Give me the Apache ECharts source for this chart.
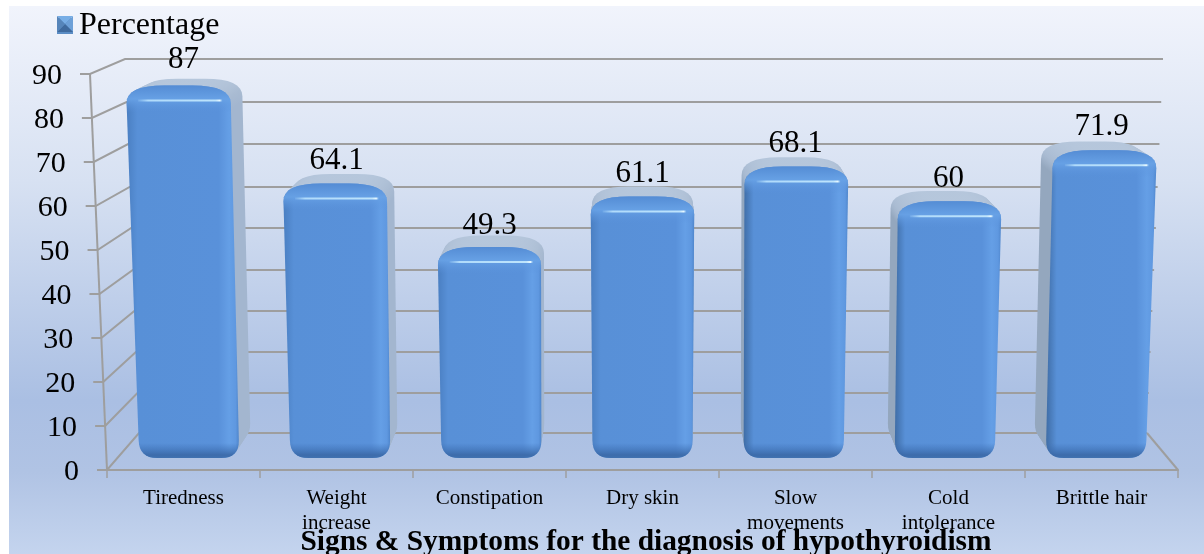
<!DOCTYPE html>
<html>
<head>
<meta charset="utf-8">
<style>
  html, body { margin: 0; background: #fff; }
  #chart { width: 1204px; height: 554px; }
</style>
<script src="https://cdn.jsdelivr.net/npm/echarts@6/dist/echarts.min.js"></script>
</head>
<body>
<div id="chart"></div>
<script>
const categories = ["Tiredness", "Weight\nincrease", "Constipation", "Dry skin", "Slow\nmovements", "Cold\nintolerance", "Brittle hair"];
const percentages = [87, 64.1, 49.3, 61.1, 68.1, 60, 71.9];
const wallTicks = [0, 10, 20, 30, 40, 50, 60, 70, 80, 90];

const FONT = '"Liberation Serif", "Times New Roman", serif';
const LINE = "#9e9e9e";
const VP = [644, -160]; // 透视灭点

// 把前平面的点往灭点方向推 d
function project(p, d) {
  return [p[0] + d * (VP[0] - p[0]), p[1] + d * (VP[1] - p[1])];
}

// 圆角四边形，radii 的每项是 [到上一条边的距离, 到下一条边的距离]
function roundedOutline(corners, radii) {
  const pts = [];
  const n = corners.length;
  for (let i = 0; i < n; i++) {
    const p = corners[i];
    const prev = corners[(i + n - 1) % n];
    const next = corners[(i + 1) % n];
    const lenA = Math.hypot(prev[0] - p[0], prev[1] - p[1]);
    const lenB = Math.hypot(next[0] - p[0], next[1] - p[1]);
    const a = [p[0] + (prev[0] - p[0]) * radii[i][0] / lenA, p[1] + (prev[1] - p[1]) * radii[i][0] / lenA];
    const b = [p[0] + (next[0] - p[0]) * radii[i][1] / lenB, p[1] + (next[1] - p[1]) * radii[i][1] / lenB];
    for (let s = 0; s <= 8; s++) {
      const t = s / 8;
      pts.push([
        (1 - t) * (1 - t) * a[0] + 2 * t * (1 - t) * p[0] + t * t * b[0],
        (1 - t) * (1 - t) * a[1] + 2 * t * (1 - t) * p[1] + t * t * b[1],
      ]);
    }
  }
  return pts;
}

function vGrad(stops) {
  return { type: "linear", x: 0, y: 0, x2: 0, y2: 1, colorStops: stops.map((s) => ({ offset: s[0], color: s[1] })) };
}
function hGrad(stops) {
  return { type: "linear", x: 0, y: 0, x2: 1, y2: 0, colorStops: stops.map((s) => ({ offset: s[0], color: s[1] })) };
}

// 墙上的网格线
function renderWall(params, api) {
  const v = api.value(1);
  const y = api.coord([0, v])[1];
  const t = v / 90;
  const backY = Math.round(433 - (470 - y) * 374 / 396 + 3.3 * Math.sin(Math.PI * t));
  const frontX = 107 - 17 * t;
  const backL = 139 - 14 * t;
  const backR = 1147 + 16 * t;
  const style = { stroke: LINE, lineWidth: 2, fill: null };
  const children = [
    { type: "polyline", shape: { points: [[frontX - 10, y], [frontX, y], [backL, backY], [backR, backY]] }, style },
  ];
  if (v === 0) {
    children.push({ type: "line", shape: { x1: backR, y1: backY, x2: 1178, y2: 470 }, style });
    children.push({ type: "line", shape: { x1: 107, y1: 470, x2: 90, y2: api.coord([0, 90])[1] }, style });
  }
  return { type: "group", children };
}

function renderBar(params, api) {
  const i = api.value(0);
  const v = api.value(1);
  const p = api.coord([i, v]);
  const zero = api.coord([i, 0]);
  const baseX = p[0] + (644 - p[0]) * 0.0125;
  const baseY = 458;
  const topY = baseY - (zero[1] - p[1]) * 0.973;
  const k = 1 + 0.00028 * v;
  const topX = 644 + (baseX - 644) * k;
  const halfB = 50;
  const halfT = 50 * k + 1;
  const corners = [[topX - halfT, topY], [topX + halfT, topY], [baseX + halfB, baseY], [baseX - halfB, baseY]];
  const radii = [[18, 38], [38, 18], [18, 18], [18, 18]];
  const front = roundedOutline(corners, radii);
  const h = baseY - topY;
  const w = 2 * halfT;
  const children = [];

  // 侧面和顶面：把轮廓往灭点方向挤出
  const rightOfCentre = baseX > 644;
  const sideColor = rightOfCentre ? "#94a7be" : "#a3b6cf";
  const sideFill = vGrad([[0, "#b6c7dc"], [Math.min(0.12, 12 / h), "#a9bbd2"], [Math.min(0.2, 24 / h), sideColor], [1, sideColor]]);
  for (let s = 10; s >= 1; s--) {
    const d = 0.028 * s / 10;
    children.push({ type: "polygon", shape: { points: front.map((q) => project(q, d)) }, style: { fill: sideFill } });
  }

  // 正面，左右边缘有暗边和亮边
  const leftDark = rightOfCentre ? "#3f6da6" : "#4a7fc2";
  children.push({
    type: "polygon",
    shape: { points: front },
    style: {
      fill: hGrad([
        [0, leftDark],
        [10 / w, "#5890d7"],
        [0.82, "#5991da"],
        [1 - 9 / w, "#659fe6"],
        [1 - 3 / w, "#5f98e0"],
        [1, "#4f86cc"],
      ]),
    },
  });
  // 顶部和底部的斜角
  const bevel = 15 / h;
  const foot = 15 / h;
  children.push({
    type: "polygon",
    shape: { points: front },
    style: {
      fill: vGrad([
        [0, "rgba(84,140,212,0.95)"],
        [bevel * 0.9, "rgba(104,162,230,0.9)"],
        [bevel * 1.8, "rgba(90,146,220,0)"],
        [1 - foot, "rgba(60,110,180,0)"],
        [1 - foot * 0.2, "rgba(58,104,166,0.9)"],
        [1, "rgba(62,110,172,0.9)"],
      ]),
    },
  });
  // 高光
  children.push({
    type: "rect",
    shape: { x: topX - halfT + 12, y: topY + 14, width: w - 20, height: 2 },
    style: { fill: hGrad([[0, "rgba(180,224,255,0.15)"], [0.12, "rgba(190,230,255,0.85)"], [0.92, "rgba(200,236,255,0.9)"], [0.97, "rgba(235,250,255,1)"], [1, "rgba(190,230,255,0.1)"]]) },
  });
  // 数据标签
  children.push({
    type: "text",
    style: {
      x: p[0],
      y: p[1] - 27,
      text: String(v),
      fill: "#000",
      font: "31px " + FONT,
      align: "center",
      verticalAlign: "middle",
    },
    z2: 20,
  });
  return { type: "group", children };
}

const chart = echarts.init(document.getElementById("chart"), null, { renderer: "canvas" });

const yRich = {};
wallTicks.forEach((v) => {
  yRich["t" + v] = { fontFamily: FONT, fontSize: 30, color: "#000", padding: [4, 17 * v / 90, 0, 0] };
});

// 图例标记的四个三角面
const legendFaces = [
  { points: [[57, 16], [73, 16], [65, 24]], fill: "#78aee6" },
  { points: [[73, 16], [73, 32], [65, 24]], fill: "#6da0d8" },
  { points: [[57, 32], [73, 32], [65, 24]], fill: "#3f6a9e" },
  { points: [[57, 16], [57, 32], [65, 24]], fill: "#5685ba" },
];

chart.setOption({
  animation: false,
  tooltip: { show: false },
  graphic: [
    {
      type: "rect",
      z: -10,
      silent: true,
      shape: { x: 9, y: 6, width: 1195, height: 548 },
      style: {
        fill: vGrad([[0, "#f1f4fc"], [0.32, "#d7e1f2"], [0.72, "#aabfe3"], [0.85, "#b0c3e4"], [1, "#c4d4ee"]]),
      },
    },
  ].concat(legendFaces.map((f) => ({
    type: "polygon",
    z: 100,
    silent: true,
    shape: { points: f.points },
    style: { fill: f.fill },
  }))),
  title: {
    text: "Signs & Symptoms for the diagnosis of hypothyroidism",
    left: 641,
    top: 523,
    textAlign: "center",
    textStyle: { fontFamily: FONT, fontWeight: "bold", fontSize: 29.4, color: "#000" },
  },
  legend: {
    left: 52,
    top: 5,
    data: ["Percentage"],
    icon: "rect",
    itemWidth: 16,
    itemHeight: 16,
    itemGap: 6,
    selectedMode: false,
    textStyle: { fontFamily: FONT, fontSize: 32, color: "#000", padding: [0, 0, 0, 1] },
    itemStyle: { color: "#5a8cc4" },
  },
  grid: { left: 107, right: 26, top: 74, bottom: 84 },
  xAxis: {
    type: "category",
    data: categories,
    axisLine: { lineStyle: { color: LINE, width: 2 } },
    axisTick: { show: true, alignWithLabel: false, length: 8, lineStyle: { color: LINE, width: 1.5 } },
    axisLabel: { fontFamily: FONT, fontSize: 21, color: "#000", lineHeight: 25, margin: 16, interval: 0 },
  },
  yAxis: {
    type: "value",
    min: 0,
    max: 90,
    interval: 10,
    axisLine: { show: false },
    axisTick: { show: false },
    splitLine: { show: false },
    axisLabel: {
      margin: 28,
      formatter: (v) => "{t" + v + "|" + v + "}",
      rich: yRich,
    },
  },
  series: [
    {
      name: "Walls",
      type: "custom",
      silent: true,
      z: 1,
      data: wallTicks.map((v) => [0, v]),
      renderItem: renderWall,
    },
    {
      name: "Percentage",
      type: "custom",
      z: 3,
      data: percentages.map((v, i) => [i, v]),
      renderItem: renderBar,
      itemStyle: { color: "#5a90d8" },
    },
  ],
});
</script>
</body>
</html>
